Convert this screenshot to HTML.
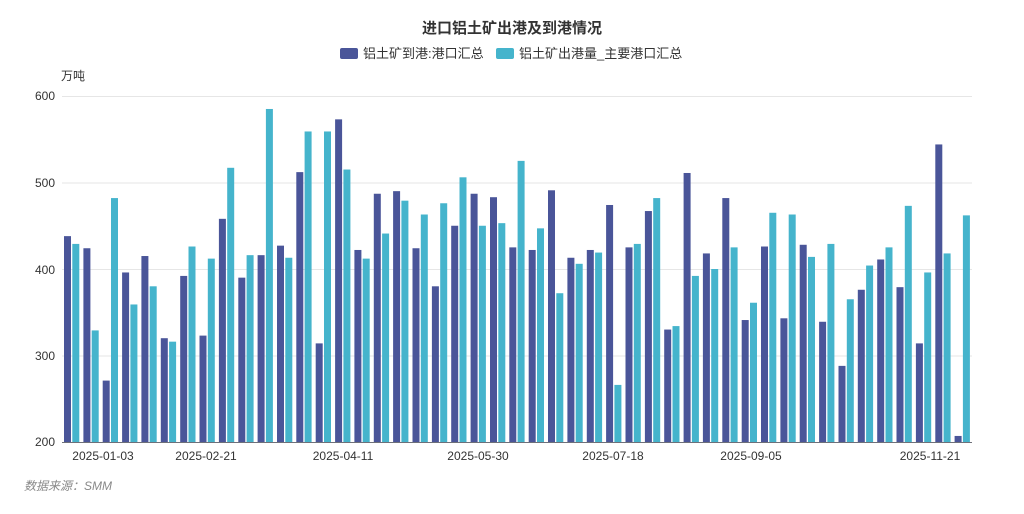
<!DOCTYPE html>
<html><head><meta charset="utf-8"><style>
body{margin:0;background:#fff;font-family:"Liberation Sans","Noto Sans CJK SC",sans-serif;}
</style></head><body>
<svg width="1024" height="509" xmlns="http://www.w3.org/2000/svg" font-family="Liberation Sans, Noto Sans CJK SC, sans-serif">
<text x="512" y="33" text-anchor="middle" font-size="15" font-weight="bold" fill="#333">进口铝土矿出港及到港情况</text>
<rect x="340" y="48" width="18" height="11" rx="2" fill="#4a5599"/>
<text x="363" y="58" font-size="13" fill="#333">铝土矿到港:港口汇总</text>
<rect x="496" y="48" width="18" height="11" rx="2" fill="#45b4cc"/>
<text x="519" y="58" font-size="13" fill="#333">铝土矿出港量_主要港口汇总</text>
<text x="61" y="80" font-size="12" fill="#333">万吨</text>
<g stroke="#e6e6e6" stroke-width="1">
<line x1="62" y1="96.5" x2="972" y2="96.5"/><line x1="62" y1="183" x2="972" y2="183"/><line x1="62" y1="269.5" x2="972" y2="269.5"/><line x1="62" y1="356" x2="972" y2="356"/>
</g>
<g font-size="12" fill="#333" text-anchor="end">
<text x="55" y="100">600</text><text x="55" y="187">500</text><text x="55" y="274">400</text><text x="55" y="360">300</text><text x="55" y="446">200</text>
</g>
<g font-size="12" fill="#333" text-anchor="middle">
<text x="103" y="460">2025-01-03</text><text x="206" y="460">2025-02-21</text><text x="343" y="460">2025-04-11</text><text x="478" y="460">2025-05-30</text><text x="613" y="460">2025-07-18</text><text x="751" y="460">2025-09-05</text><text x="930" y="460">2025-11-21</text>
</g>
<text x="24" y="490" font-size="12" fill="#888" font-style="italic">数据来源：SMM</text>
<g transform="translate(0,442) scale(1,-0.865)" fill="#4a5599">
<rect x="64.0" width="7" height="238"/><rect x="83.4" width="7" height="224"/><rect x="102.7" width="7" height="71"/><rect x="122.1" width="7" height="196"/><rect x="141.4" width="7" height="215"/><rect x="160.8" width="7" height="120"/><rect x="180.2" width="7" height="192"/><rect x="199.5" width="7" height="123"/><rect x="218.9" width="7" height="258"/><rect x="238.3" width="7" height="190"/><rect x="257.6" width="7" height="216"/><rect x="277.0" width="7" height="227"/><rect x="296.3" width="7" height="312"/><rect x="315.7" width="7" height="114"/><rect x="335.1" width="7" height="373"/><rect x="354.4" width="7" height="222"/><rect x="373.8" width="7" height="287"/><rect x="393.1" width="7" height="290"/><rect x="412.5" width="7" height="224"/><rect x="431.9" width="7" height="180"/><rect x="451.2" width="7" height="250"/><rect x="470.6" width="7" height="287"/><rect x="490.0" width="7" height="283"/><rect x="509.3" width="7" height="225"/><rect x="528.7" width="7" height="222"/><rect x="548.0" width="7" height="291"/><rect x="567.4" width="7" height="213"/><rect x="586.8" width="7" height="222"/><rect x="606.1" width="7" height="274"/><rect x="625.5" width="7" height="225"/><rect x="644.9" width="7" height="267"/><rect x="664.2" width="7" height="130"/><rect x="683.6" width="7" height="311"/><rect x="702.9" width="7" height="218"/><rect x="722.3" width="7" height="282"/><rect x="741.7" width="7" height="141"/><rect x="761.0" width="7" height="226"/><rect x="780.4" width="7" height="143"/><rect x="799.7" width="7" height="228"/><rect x="819.1" width="7" height="139"/><rect x="838.5" width="7" height="88"/><rect x="857.8" width="7" height="176"/><rect x="877.2" width="7" height="211"/><rect x="896.5" width="7" height="179"/><rect x="915.9" width="7" height="114"/><rect x="935.3" width="7" height="344"/><rect x="954.6" width="7" height="7"/>
</g>
<g transform="translate(8.3,442) scale(1,-0.865)" fill="#45b4cc">
<rect x="64.0" width="7" height="229"/><rect x="83.4" width="7" height="129"/><rect x="102.7" width="7" height="282"/><rect x="122.1" width="7" height="159"/><rect x="141.4" width="7" height="180"/><rect x="160.8" width="7" height="116"/><rect x="180.2" width="7" height="226"/><rect x="199.5" width="7" height="212"/><rect x="218.9" width="7" height="317"/><rect x="238.3" width="7" height="216"/><rect x="257.6" width="7" height="385"/><rect x="277.0" width="7" height="213"/><rect x="296.3" width="7" height="359"/><rect x="315.7" width="7" height="359"/><rect x="335.1" width="7" height="315"/><rect x="354.4" width="7" height="212"/><rect x="373.8" width="7" height="241"/><rect x="393.1" width="7" height="279"/><rect x="412.5" width="7" height="263"/><rect x="431.9" width="7" height="276"/><rect x="451.2" width="7" height="306"/><rect x="470.6" width="7" height="250"/><rect x="490.0" width="7" height="253"/><rect x="509.3" width="7" height="325"/><rect x="528.7" width="7" height="247"/><rect x="548.0" width="7" height="172"/><rect x="567.4" width="7" height="206"/><rect x="586.8" width="7" height="219"/><rect x="606.1" width="7" height="66"/><rect x="625.5" width="7" height="229"/><rect x="644.9" width="7" height="282"/><rect x="664.2" width="7" height="134"/><rect x="683.6" width="7" height="192"/><rect x="702.9" width="7" height="200"/><rect x="722.3" width="7" height="225"/><rect x="741.7" width="7" height="161"/><rect x="761.0" width="7" height="265"/><rect x="780.4" width="7" height="263"/><rect x="799.7" width="7" height="214"/><rect x="819.1" width="7" height="229"/><rect x="838.5" width="7" height="165"/><rect x="857.8" width="7" height="204"/><rect x="877.2" width="7" height="225"/><rect x="896.5" width="7" height="273"/><rect x="915.9" width="7" height="196"/><rect x="935.3" width="7" height="218"/><rect x="954.6" width="7" height="262"/>
</g>
<line x1="62" y1="442.5" x2="972" y2="442.5" stroke="#6e7079"/>
</svg>
</body></html>
